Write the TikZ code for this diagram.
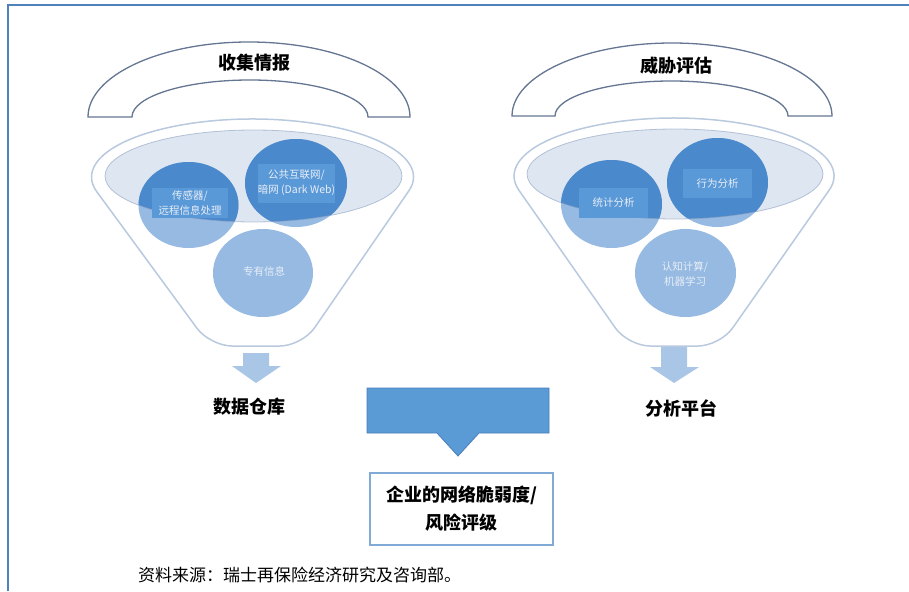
\documentclass[tikz,border=0pt]{standalone}
\usepackage{fontspec}
\setmainfont{Noto Sans CJK SC}
\usepackage{tikz}
\tikzset{>=latex}
\definecolor{framec}{RGB}{79,129,189}
\definecolor{archc}{RGB}{100,118,145}
\definecolor{rimc}{RGB}{185,201,222}
\definecolor{cupfill}{RGB}{222,230,242}
\definecolor{cupline}{RGB}{140,160,192}
\definecolor{balldark}{RGB}{74,137,203}
\definecolor{balllight}{RGB}{150,186,226}
\definecolor{tagc}{RGB}{90,153,216}
\definecolor{tagtext}{RGB}{232,238,247}
\definecolor{arrowsoft}{RGB}{170,198,230}
\definecolor{arrowbig}{RGB}{91,155,213}
\definecolor{arrowbigline}{RGB}{72,128,188}
\definecolor{boxline}{RGB}{130,170,215}
\tikzset{
	arch/.style={draw=archc, line width=1.3pt, fill=white},
	rim/.style={draw=rimc, line width=1.5pt, fill=white},
	cup/.style={draw=cupline, line width=0.8pt},
	tag/.style={text=tagtext, font=\fontsize{10.5}{15}\selectfont, align=center, inner sep=0pt},
	head/.style={font=\fontsize{18}{22}\selectfont\bfseries, inner sep=1pt},
	softarrow/.style={fill=arrowsoft},
}

\begin{document}
\begin{tikzpicture}[x=1pt,y=-1pt]
%	\draw[help lines,step=50] (0,0) grid (909,591);
	\useasboundingbox (0,0) rectangle (909,591);
	\draw [framec, line width=2pt] (8,591) -- (8,5) -- (909,5);
	% left funnel
	\path [arch] (88,117) arc [start angle=180, end angle=360, x radius=161, y radius=75] -- (368,117) arc [start angle=360, end angle=180, x radius=118, y radius=37] -- cycle;
	\node [head] (collect) at (254,63) {收集情报};
	\path [rim] (153.5,269) [rounded corners=22pt] -- (210,346) -- (302,346) -- (355.4,268.5) [sharp corners] -- (408.72,191.03) arc [start angle=14, end angle=-195, x radius=161, y radius=58] -- cycle;
	\fill [cupfill] (253.5,176) ellipse [x radius=148.5, y radius=46];
	\fill [balllight] (188.5,205) ellipse [x radius=50, y radius=43];
	\fill [balllight] (296,183) ellipse [x radius=51, y radius=44];
	\fill [balllight] (263,273) ellipse [x radius=50, y radius=44];
	\begin{scope}
		\clip (253.5,176) ellipse [x radius=148.5, y radius=46];
		\fill [balldark] (188.5,205) ellipse [x radius=50, y radius=43];
		\fill [balldark] (296,183) ellipse [x radius=51, y radius=44];
	\end{scope}
	\draw [cup, opacity=.6] (253.5,176) ellipse [x radius=148.5, y radius=46];
	\node [tag, fill=tagc, minimum width=76pt, minimum height=30pt] (sensor) at (190,203) {传感器/\\远程信息处理};
	\node [tag, fill=tagc, minimum width=73pt, minimum height=39pt] (web) at (296.5,183) {公共互联网/\\暗网 (Dark Web)};
	\node [tag] (private) at (264,271) {专有信息};
	\fill [softarrow] (243,353) -- (269,353) -- (269,366) -- (281,366) -- (256,383) -- (232,366) -- (243,366) -- cycle;
	\node [head] (warehouse) at (249,407) {数据仓库};
	% right funnel
	\path [arch] (512,116) arc [start angle=180, end angle=360, x radius=160, y radius=73] -- (788,116) arc [start angle=360, end angle=180, x radius=116.5, y radius=35] -- cycle;
	\node [head] (threat) at (676,66) {威胁评估};
	\path [rim] (573.6,268.3) [rounded corners=22pt] -- (628,346) -- (720,346) -- (774.5,268.2) [sharp corners] -- (829.04,190.33) arc [start angle=14.3, end angle=-194.5, x radius=160, y radius=58] -- cycle;
	\fill [cupfill] (675,174) ellipse [x radius=148, y radius=45];
	\fill [balllight] (611.5,204) ellipse [x radius=50.5, y radius=44];
	\fill [balllight] (717.5,182.5) ellipse [x radius=50.5, y radius=44.5];
	\fill [balllight] (685.5,273) ellipse [x radius=50.5, y radius=44];
	\begin{scope}
		\clip (675,174) ellipse [x radius=148, y radius=45];
		\fill [balldark] (611.5,204) ellipse [x radius=50.5, y radius=44];
		\fill [balldark] (717.5,182.5) ellipse [x radius=50.5, y radius=44.5];
	\end{scope}
	\draw [cup, opacity=.6] (675,174) ellipse [x radius=148, y radius=45];
	\node [tag, fill=tagc, minimum width=69pt, minimum height=30pt] (stats) at (613.5,203) {统计分析};
	\node [tag, fill=tagc, minimum width=69pt, minimum height=29pt] (behaviour) at (717.5,183.5) {行为分析};
	\node [tag] (cognitive) at (685,274) {认知计算/\\机器学习};
	\fill [softarrow] (661,347) -- (687,347) -- (687,367) -- (699,367) -- (674,383) -- (650,367) -- (661,367) -- cycle;
	\node [head] (platform) at (681,408) {分析平台};
	% result
	\path [fill=arrowbig, draw=arrowbigline, line width=0.8pt] (367,388) -- (549,388) -- (549,433) -- (479,433) -- (458,456) -- (437,433) -- (367,433) -- cycle;
	\node [head, draw=boxline, line width=1.5pt, minimum width=183pt, minimum height=72pt, align=center, font=\fontsize{18}{28}\selectfont\bfseries] (rating) at (461.5,509) {企业的网络脆弱度/\\风险评级};
	\node [anchor=west, inner sep=0pt, font=\fontsize{17}{20}\selectfont] (source) at (138,575) {资料来源：瑞士再保险经济研究及咨询部。};
\end{tikzpicture}
\end{document}
